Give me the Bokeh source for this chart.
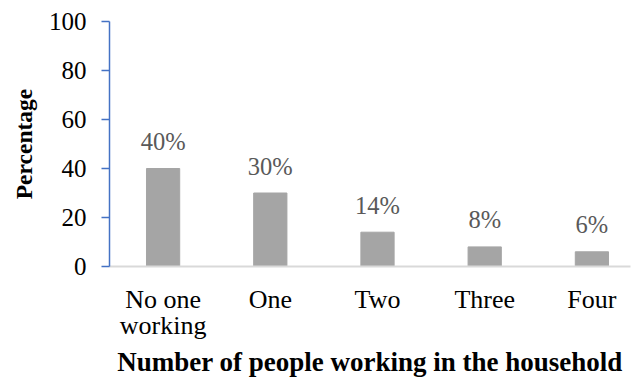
from bokeh.plotting import figure
from bokeh.models import Range1d, FixedTicker, ColumnDataSource
from bokeh.embed import file_html
from bokeh.resources import INLINE

categories = ["No one\nworking", "One", "Two", "Three", "Four"]
values = [40, 30, 14, 8, 6]
labels = ["40%", "30%", "14%", "8%", "6%"]
y_ticks = [0, 20, 40, 60, 80, 100]
x_title = "Number of people working in the household"
y_title = "Percentage"

FONT = "Liberation Serif"
xs = list(range(len(categories)))
src = ColumnDataSource(dict(x=xs, top=values, label=labels))

p = figure(width=636, height=381, output_backend="svg", toolbar_location=None,
           x_range=Range1d(-0.5, 4.36), y_range=Range1d(0, 100),
           min_border_left=109, min_border_top=21, min_border_right=6, min_border_bottom=115)
p.outline_line_color = None
p.grid.grid_line_color = None

p.vbar(x="x", top="top", width=0.31, source=src, color="#a5a5a5")
p.text(x="x", y="top", text="label", source=src, text_align="center", text_baseline="alphabetic",
       y_offset=-27, text_font=FONT, text_font_size="24.5px", text_color="#595959")

xa = p.xaxis[0]
xa.ticker = FixedTicker(ticks=xs)
xa.major_label_overrides = {i: c for i, c in enumerate(categories)}
xa.major_tick_line_color = None
xa.minor_tick_line_color = None
xa.axis_line_color = "#d9d9d9"
xa.axis_line_width = 2
xa.major_label_text_font = FONT
xa.major_label_text_font_size = "26px"
xa.major_label_text_line_height = 0.92
xa.major_label_text_color = "black"
xa.major_label_standoff = 12
xa.axis_label = x_title
xa.axis_label_text_font = FONT
xa.axis_label_text_font_style = "bold"
xa.axis_label_text_font_size = "27px"
xa.axis_label_text_color = "black"
xa.axis_label_standoff = 4

ya = p.yaxis[0]
ya.ticker = FixedTicker(ticks=y_ticks)
ya.minor_tick_line_color = None
ya.axis_line_color = "#4472c4"
ya.axis_line_width = 1.5
ya.major_tick_line_color = "#4472c4"
ya.major_tick_line_width = 1.5
ya.major_tick_out = 8
ya.major_tick_in = 0
ya.major_label_standoff = 15
ya.major_label_text_font = FONT
ya.major_label_text_font_size = "25px"
ya.major_label_text_color = "black"
ya.axis_label = y_title
ya.axis_label_text_font = FONT
ya.axis_label_text_font_style = "bold"
ya.axis_label_text_font_size = "23.5px"
ya.axis_label_text_color = "black"
ya.axis_label_standoff = 9

open("out.html", "w").write(file_html(p, INLINE))
